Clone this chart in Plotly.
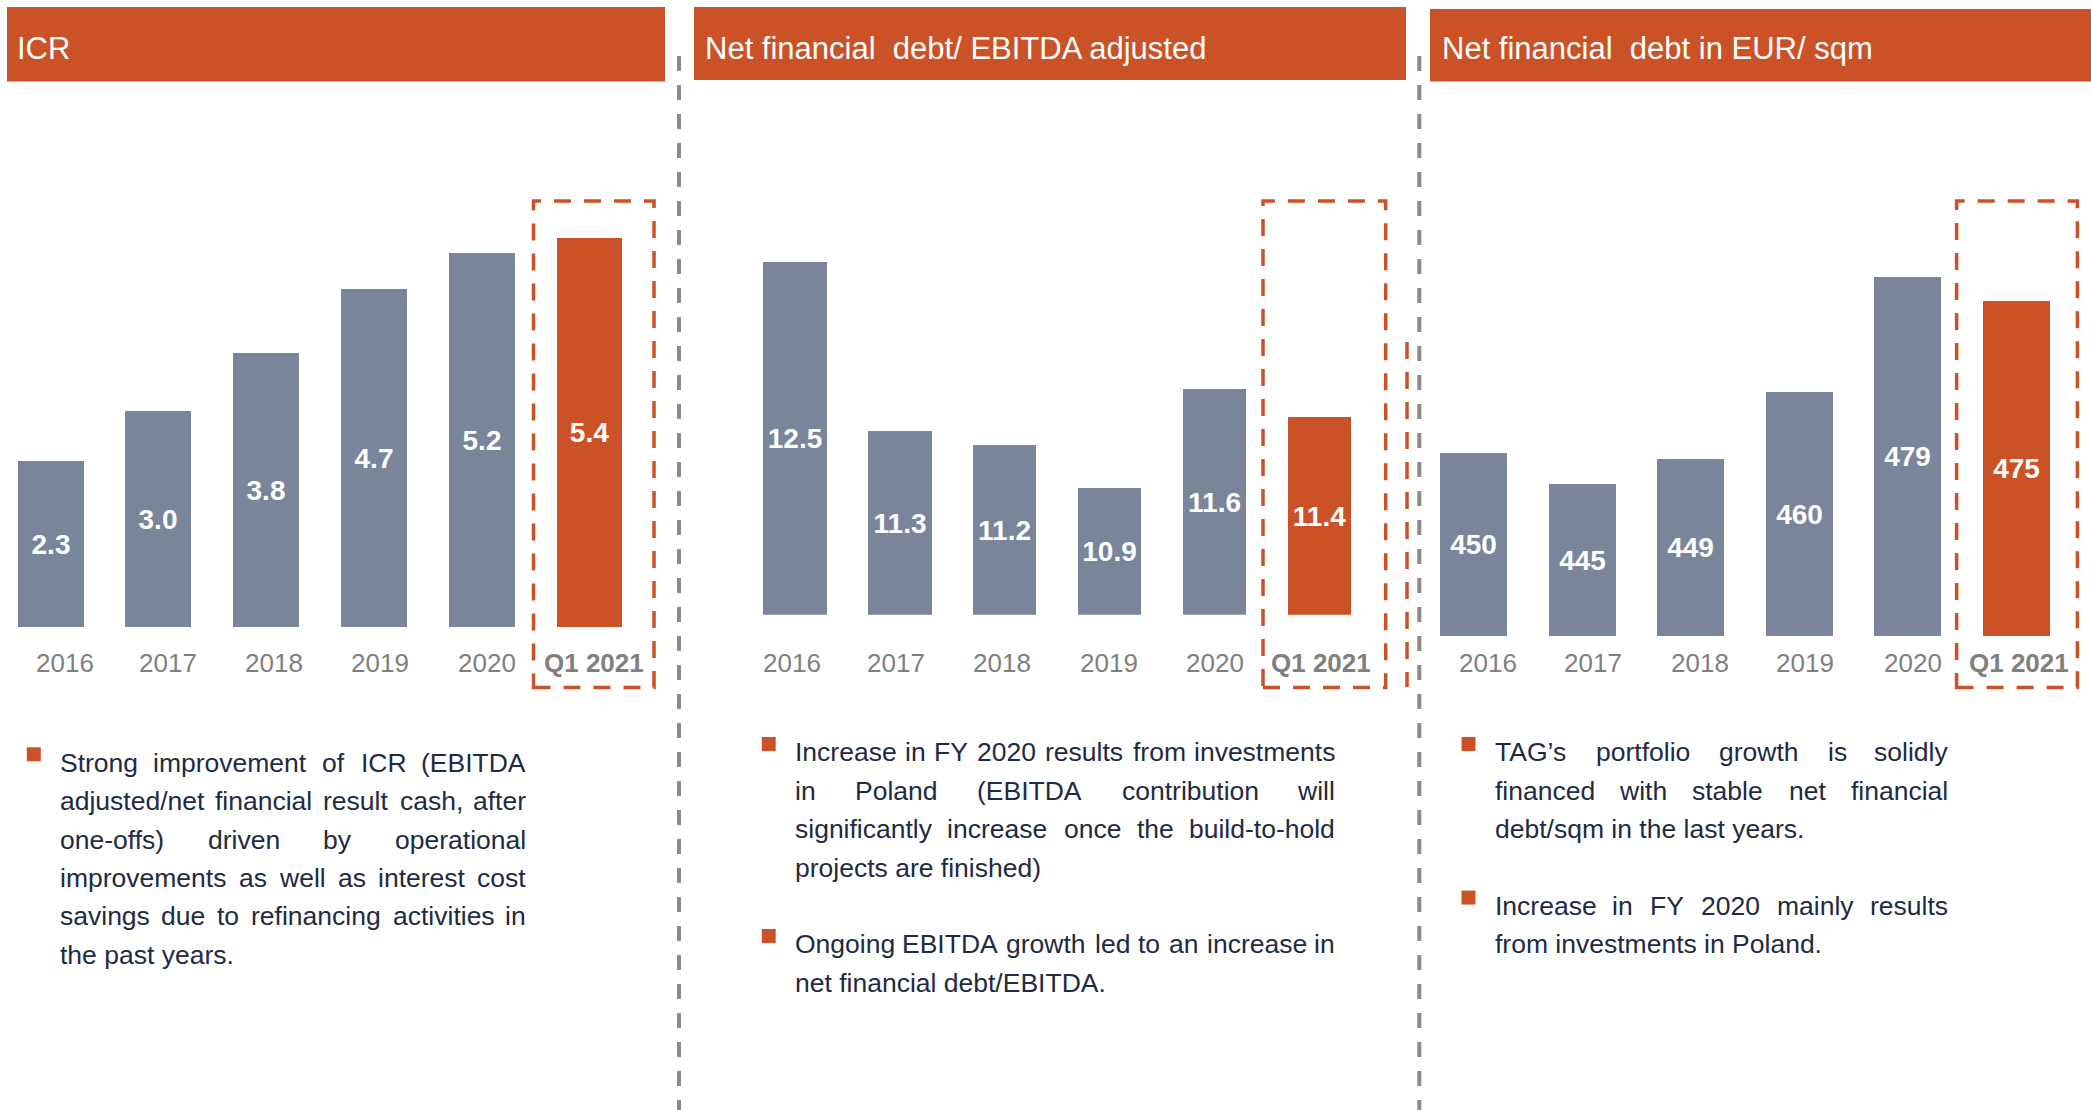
import plotly.graph_objects as go

W, H = 2091, 1110

# ---------------- data ----------------
categories = ["2016", "2017", "2018", "2019", "2020", "Q1 2021"]
icr = [2.3, 3.0, 3.8, 4.7, 5.2, 5.4]
nfd_ebitda = [12.5, 11.3, 11.2, 10.9, 11.6, 11.4]
nfd_sqm = [450, 445, 449, 460, 479, 475]

titles = ["ICR", "Net financial  debt/ EBITDA adjusted", "Net financial  debt in EUR/ sqm"]

notes_icr = [[
    "Strong improvement of ICR (EBITDA",
    "adjusted/net financial result cash, after",
    "one-offs) driven by operational",
    "improvements as well as interest cost",
    "savings due to refinancing activities in",
    "the past years.",
]]
notes_ebitda = [[
    "Increase in FY 2020 results from investments",
    "in Poland (EBITDA contribution will",
    "significantly increase once the build-to-hold",
    "projects are finished)",
], [
    "Ongoing EBITDA growth led to an increase in",
    "net financial debt/EBITDA.",
]]
notes_sqm = [[
    "TAG’s portfolio growth is solidly",
    "financed with stable net financial",
    "debt/sqm in the last years.",
], [
    "Increase in FY 2020 mainly results",
    "from investments in Poland.",
]]

# ---------------- style ----------------
ORANGE = "#CB5227"
BAR = "#7A849A"
TXT = "#1E2B42"
CAT = "#7F7F7F"
SEP = "#8A8A8A"
FONT = "Liberation Sans, Arial, sans-serif"


def px(x):
    return x / W


def py(y):
    return 1 - y / H


# Arial / Liberation Sans advance widths (per 1000 em)
AW = {' ': 278, "'": 191, '(': 333, ')': 333, ',': 278, '-': 333, '.': 278, '/': 278, '’': 222,
      'A': 667, 'B': 667, 'C': 722, 'D': 722, 'E': 667, 'F': 611, 'G': 778, 'H': 722, 'I': 278,
      'J': 500, 'K': 667, 'L': 556, 'M': 833, 'N': 722, 'O': 778, 'P': 667, 'Q': 778, 'R': 722,
      'S': 667, 'T': 611, 'U': 722, 'V': 667, 'W': 944, 'X': 667, 'Y': 667, 'Z': 611,
      'a': 556, 'b': 556, 'c': 500, 'd': 556, 'e': 556, 'f': 278, 'g': 556, 'h': 556, 'i': 222,
      'j': 222, 'k': 500, 'l': 222, 'm': 833, 'n': 556, 'o': 556, 'p': 556, 'q': 556, 'r': 333,
      's': 500, 't': 278, 'u': 556, 'v': 500, 'w': 722, 'x': 500, 'y': 500, 'z': 500}


def tw(s, size):
    return sum(AW.get(c, 556) for c in s) / 1000 * size


panels = [
    dict(vals=icr, base=0, fmt="{:.1f}", dom=(0, 663), c0=50.65, s=107.77, bw=0.612,
         ybot=627.0, ppu=72.0, xshift=[14, 10, 8, 6, 5, 4],
         box=(533.5, 201, 654, 687.5), head=(7, 7, 665, 81.5), tx=15.6,
         notes=notes_icr, tl=59.4, tr=527, b0=772, bul=(26.8, 747.3)),
    dict(vals=nfd_ebitda, base=10, fmt="{:.1f}", dom=(693, 1406), c0=795.0, s=104.86, bw=0.606,
         ybot=614.7, ppu=141.1, xshift=[-3, -4, -3, -1, 1, 2],
         box=(1263, 201, 1385.7, 687.5), head=(694, 7, 1406, 80), tx=703.8,
         notes=notes_ebitda, tl=794, tr=1336, b0=761.7, bul=(761.7, 737)),
    dict(vals=nfd_sqm, base=420, fmt="{:.0f}", dom=(1430, 2091), c0=1473.75, s=108.55, bw=0.617,
         ybot=636.0, ppu=6.09, xshift=[14, 11, 9, 6, 5, 2],
         box=(1956.6, 201, 2077.4, 687.5), head=(1430, 9, 2091, 81.5), tx=1440.5,
         notes=notes_sqm, tl=1493.6, tr=1949, b0=761.7, bul=(1461.5, 737)),
]

YTOP = 100
LH = 38.4
BODY = 26.5

fig = go.Figure()
shapes = []
annotations = []

for k, p in enumerate(panels):
    sfx = "" if k == 0 else str(k + 1)
    xa, ya = "x" + sfx, "y" + sfx
    vals = p["vals"]
    colors = [BAR] * (len(vals) - 1) + [ORANGE]
    fig.add_trace(go.Bar(
        x=list(range(len(vals))),
        y=[v - p["base"] for v in vals],
        base=p["base"],
        width=p["bw"],
        marker=dict(color=colors, line=dict(width=0)),
        text=[p["fmt"].format(v) for v in vals],
        textposition="inside",
        insidetextanchor="middle",
        constraintext="none",
        textangle=0,
        textfont=dict(color="white", size=28, family=FONT, weight="bold"),
        xaxis=xa, yaxis=ya, showlegend=False, hoverinfo="skip",
        cliponaxis=False,
    ))
    L, R = p["dom"]
    r0 = (L - p["c0"]) / p["s"]
    r1 = (R - p["c0"]) / p["s"]
    ymax = p["base"] + (p["ybot"] - YTOP) / p["ppu"]
    axis_common = dict(showgrid=False, zeroline=False, showticklabels=False, showline=False, ticks="")
    fig.update_layout(**{
        ("xaxis" + sfx): dict(domain=[px(L), px(R)], range=[r0, r1], anchor=ya, **axis_common),
        ("yaxis" + sfx): dict(domain=[py(p["ybot"]), py(YTOP)], range=[p["base"], ymax], anchor=xa, **axis_common),
    })

    # category labels
    for i, c in enumerate(categories):
        t = "<b>%s</b>" % c if i == len(categories) - 1 else c
        annotations.append(dict(x=i, y=py(663), xref=xa, yref="paper", text=t, showarrow=False,
                                xanchor="center", yanchor="middle", xshift=p["xshift"][i],
                                font=dict(size=26, color=CAT, family=FONT)))

    # header bar + title
    hx0, hy0, hx1, hy1 = p["head"]
    shapes.append(dict(type="rect", xref="paper", yref="paper", x0=px(hx0), x1=px(hx1),
                       y0=py(hy1), y1=py(hy0), fillcolor=ORANGE, line=dict(width=0), layer="below"))
    annotations.append(dict(x=px(p["tx"]), y=py(48), xref="paper", yref="paper", text=titles[k],
                            showarrow=False, xanchor="left", yanchor="middle", borderpad=0,
                            font=dict(size=31, color="white", family=FONT)))

    # dashed highlight box
    bx0, by0, bx1, by1 = p["box"]
    shapes.append(dict(type="rect", xref="paper", yref="paper", x0=px(bx0), x1=px(bx1),
                       y0=py(by1), y1=py(by0), fillcolor="rgba(0,0,0,0)",
                       line=dict(color=ORANGE, width=3.5, dash="17px,13px")))

    # body text (justified)
    line_no = 0
    for pi, para in enumerate(p["notes"]):
        if pi > 0:
            line_no += 1  # blank line between paragraphs
        bx, byy = p["bul"]
        off = line_no * LH
        shapes.append(dict(type="rect", xref="paper", yref="paper", x0=px(bx), x1=px(bx + 14),
                           y0=py(byy + 14 + off), y1=py(byy + off),
                           fillcolor=ORANGE, line=dict(width=0)))
        for li, line in enumerate(para):
            baseline = p["b0"] + line_no * LH
            ycen = py(baseline - 0.35 * BODY)
            words = line.split()
            last = li == len(para) - 1
            fnt = dict(size=BODY, color=TXT, family=FONT)
            if last or len(words) == 1:
                annotations.append(dict(x=px(p["tl"]), y=ycen, xref="paper", yref="paper", text=line,
                                        showarrow=False, xanchor="left", yanchor="middle", font=fnt,
                                        borderpad=0))
            else:
                ws = [tw(w, BODY) for w in words]
                gap = (p["tr"] - p["tl"] - sum(ws)) / (len(words) - 1)
                pos = p["tl"]
                for wi, w in enumerate(words):
                    if wi == 0:
                        xx, anc = p["tl"], "left"
                    elif wi == len(words) - 1:
                        xx, anc = p["tr"], "right"
                    else:
                        xx, anc = pos + ws[wi] / 2, "center"
                    annotations.append(dict(x=px(xx), y=ycen, xref="paper", yref="paper", text=w,
                                            showarrow=False, xanchor=anc, yanchor="middle",
                                            font=fnt, borderpad=0))
                    pos += ws[wi] + gap
            line_no += 1

# vertical gray separators
for sx in (679, 1419.3):
    shapes.append(dict(type="line", xref="paper", yref="paper", x0=px(sx), x1=px(sx),
                       y0=py(56), y1=py(H), line=dict(color=SEP, width=4, dash="15px,14px")))
# stray orange dashed edge
shapes.append(dict(type="line", xref="paper", yref="paper", x0=px(1407), x1=px(1407),
                   y0=py(342), y1=py(687), line=dict(color=ORANGE, width=3.5, dash="17px,13px")))

fig.update_layout(
    width=W, height=H,
    margin=dict(l=0, r=0, t=0, b=0),
    paper_bgcolor="white", plot_bgcolor="white",
    font=dict(family=FONT),
    shapes=shapes, annotations=annotations,
    bargap=0,
)

fig.write_html(
    "out.html",
    config={"displayModeBar": False},
    post_script="document.body.style.margin='0';document.body.style.overflow='hidden';",
)
